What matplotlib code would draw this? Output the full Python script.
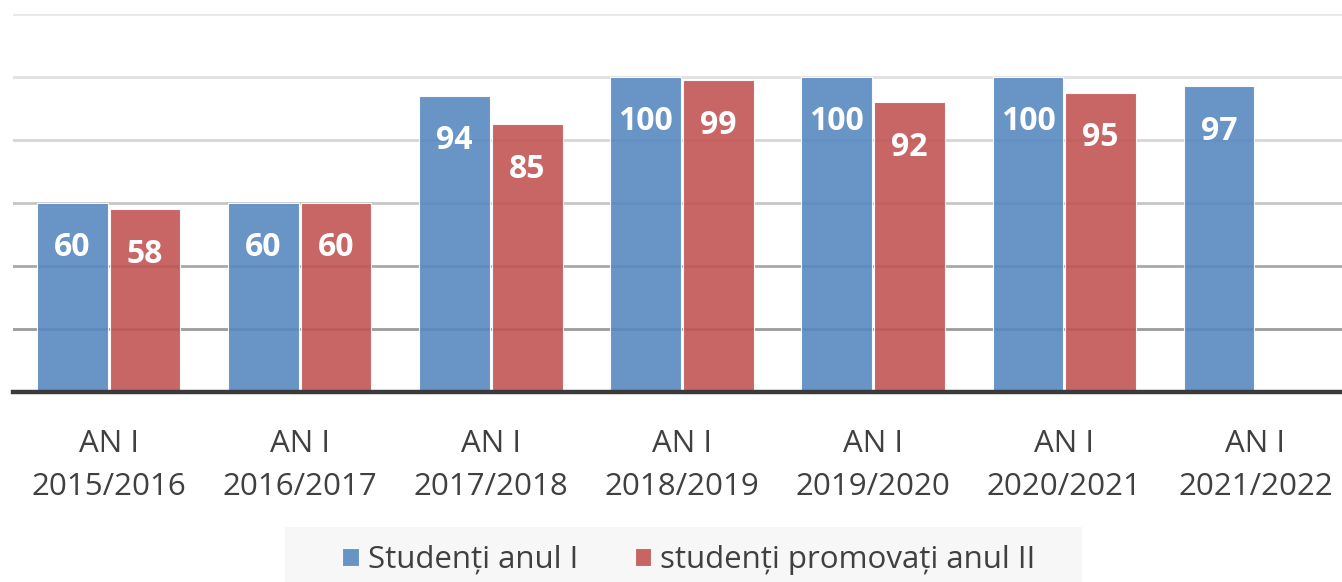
import numpy as np
import matplotlib
matplotlib.use("Agg")
import matplotlib.pyplot as plt
from matplotlib.patches import Rectangle

# ---- data ----
categories = ["AN I\n2015/2016", "AN I\n2016/2017", "AN I\n2017/2018", "AN I\n2018/2019",
              "AN I\n2019/2020", "AN I\n2020/2021", "AN I\n2021/2022"]
studenti_anul_I = [60, 60, 94, 100, 100, 100, 97]
promovati_anul_II = [58, 60, 85, 99, 92, 95, np.nan]
series_names = ["Studenți anul I", "studenți promovați anul II"]
y_ticks = [0, 20, 40, 60, 80, 100, 120]

plt.rcParams['font.family'] = ['Open Sans', 'DejaVu Sans']

W, H = 1342, 582
fig = plt.figure(figsize=(W / 100, H / 100), dpi=100, facecolor='white')
ax = fig.add_axes([13 / W, 1 - 392 / H, 1 - 13 / W, (392 - 14) / H])

x = np.arange(len(categories))
bw = 0.37
blue = '#5888c0'
red = '#c25555'
c1 = ax.bar(x - 0.19, studenti_anul_I, bw, color=blue, alpha=0.9,
            edgecolor='white', linewidth=0.8, label=series_names[0], zorder=2)
c2 = ax.bar(x + 0.19, promovati_anul_II, bw, color=red, alpha=0.9,
            edgecolor='white', linewidth=0.8, label=series_names[1], zorder=2)

for cont, vals in ((c1, studenti_anul_I), (c2, promovati_anul_II)):
    for rect, v in zip(cont, vals):
        if np.isnan(v):
            continue
        ax.annotate(f"{int(v)}", (rect.get_x() + rect.get_width() / 2, rect.get_height()),
                    xytext=(0, -38.5), textcoords='offset points', ha='center',
                    va='baseline', color='white', fontsize=23, fontweight='bold', zorder=3)

ax.set_xlim(-0.5, (W - 109.5) / 191)
ax.set_ylim(0, 120)
ax.set_yticks(y_ticks)
ax.set_xticks(x)
ax.set_xticklabels(categories, fontsize=22.5, color='#404040', linespacing=1.55)
ax.tick_params(axis='x', length=0, pad=27)
ax.tick_params(axis='y', length=0, labelleft=False)
ax.set_axisbelow(True)
ax.grid(axis='y', linewidth=2)
grid_colors = ['#ffffff', '#9a9a9a', '#a9a9a9', '#c6c6c6', '#d6d6d6', '#e0e0e0', '#e8e8e8']
for gl, gc in zip(ax.yaxis.get_gridlines(), grid_colors):
    gl.set_color(gc)
for s in ['top', 'right', 'left']:
    ax.spines[s].set_visible(False)
ax.spines['bottom'].set_color('#3a3a3a')
ax.spines['bottom'].set_linewidth(3.2)
ax.spines['bottom'].set_zorder(4)

# legend background
fig.patches.append(Rectangle((285 / W, 0), (1082 - 285) / W, (582 - 527) / H,
                             transform=fig.transFigure, facecolor='#f7f7f7',
                             edgecolor='none', zorder=0))
handles = [c1, c2]
leg = fig.legend(handles, series_names, loc='center', bbox_to_anchor=(689 / W, 1 - 560 / H),
                 ncol=2, frameon=False, fontsize=22.5, handlelength=0.52, handleheight=0.52,
                 handletextpad=0.3, columnspacing=1.8, labelcolor='#404040')

fig.savefig('out.png', dpi=100, facecolor='white')
